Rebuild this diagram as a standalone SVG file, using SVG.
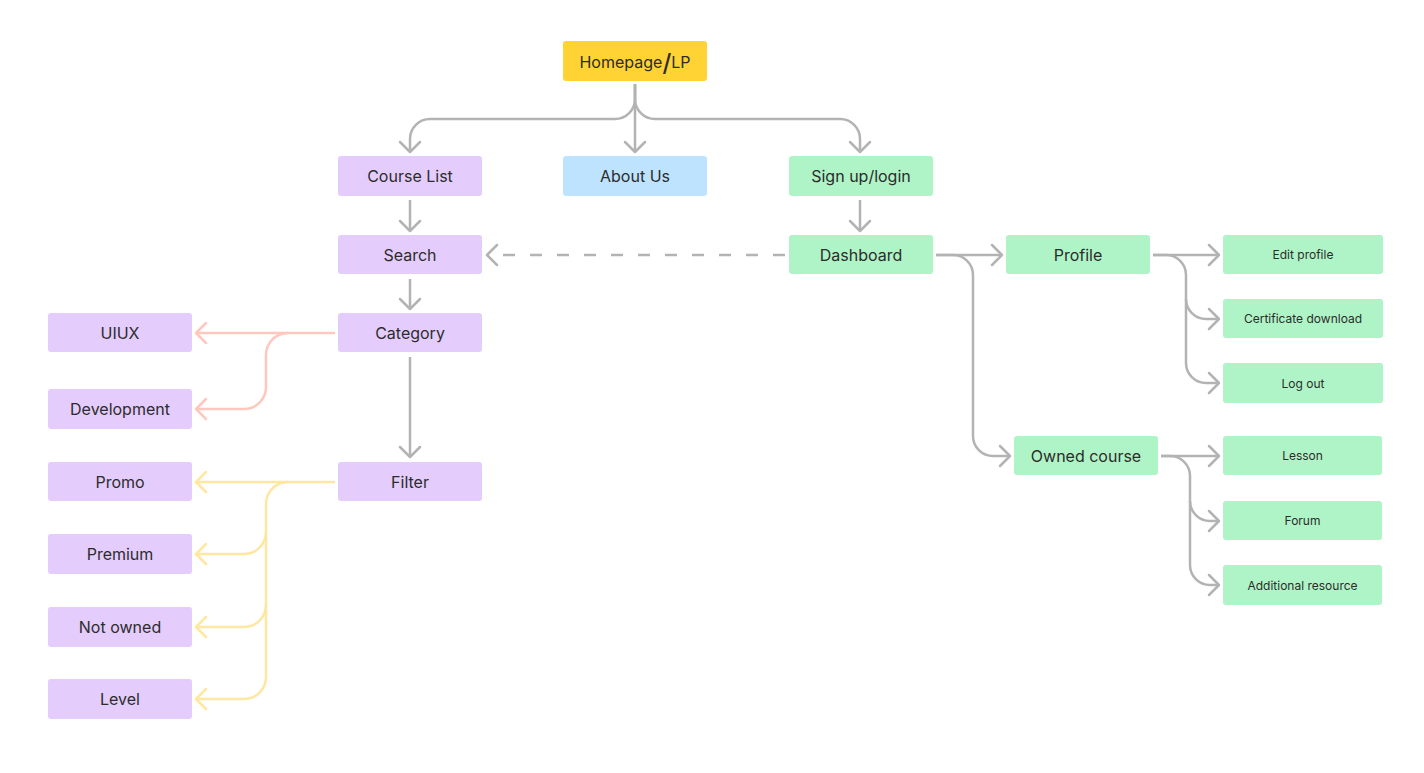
<svg xmlns="http://www.w3.org/2000/svg" width="1424" height="773" viewBox="0 0 1424 773">
<defs>
<style>
.n{stroke:none}
.y{fill:#FFD333}
.p{fill:#E4CCFC}
.b{fill:#BDE3FF}
.g{fill:#AFF4C6}
.t{font-family:Inter,"Noto Sans","Liberation Sans",sans-serif;font-size:16px;fill:#2C2C2C;text-anchor:middle;dominant-baseline:central}
.s{font-size:12px}
.c{fill:none;stroke-width:2.5;stroke-linejoin:round}
.gr{stroke:#B3B3B3}
.sa{stroke:#FFC7BD}
.ye{stroke:#FFE6A1}
</style>
<marker id="ag" markerUnits="userSpaceOnUse" viewBox="-12 -12 14 24" markerWidth="14" markerHeight="24" refX="0" refY="0" orient="auto"><path d="M-10,-10 L0,0 L-10,10" fill="none" stroke="#B3B3B3" stroke-width="2.5" stroke-linecap="round" stroke-linejoin="round"/></marker>
<marker id="as" markerUnits="userSpaceOnUse" viewBox="-12 -12 14 24" markerWidth="14" markerHeight="24" refX="0" refY="0" orient="auto"><path d="M-10,-10 L0,0 L-10,10" fill="none" stroke="#FFC7BD" stroke-width="2.5" stroke-linecap="round" stroke-linejoin="round"/></marker>
<marker id="ay" markerUnits="userSpaceOnUse" viewBox="-12 -12 14 24" markerWidth="14" markerHeight="24" refX="0" refY="0" orient="auto"><path d="M-10,-10 L0,0 L-10,10" fill="none" stroke="#FFE6A1" stroke-width="2.5" stroke-linecap="round" stroke-linejoin="round"/></marker>
</defs>
<rect width="1424" height="773" fill="#FFFFFF"/>
<g id="connectors">
<path class="c gr" d="M635,84 V152" marker-end="url(#ag)"/>
<path class="c gr" d="M635,84 V99 A20,20 0 0 1 615,119 H430 A20,20 0 0 0 410,139 V152" marker-end="url(#ag)"/>
<path class="c gr" d="M635,84 V99 A20,20 0 0 0 655,119 H840 A20,20 0 0 1 860,139 V152" marker-end="url(#ag)"/>
<path class="c gr" d="M410,200 V231" marker-end="url(#ag)"/>
<path class="c gr" d="M860,200 V231" marker-end="url(#ag)"/>
<path class="c gr" d="M410,279 V309" marker-end="url(#ag)"/>
<path class="c gr" d="M410,357 V457" marker-end="url(#ag)"/>
<path class="c gr" d="M785,255 H487" stroke-dasharray="12 15" marker-end="url(#ag)"/>
<path class="c gr" d="M936,255 H1002" marker-end="url(#ag)"/>
<path class="c gr" d="M936,255 H953 A20,20 0 0 1 973,275 V436 A20,20 0 0 0 993,456 H1010" marker-end="url(#ag)"/>
<path class="c gr" d="M1153,255 H1219" marker-end="url(#ag)"/>
<path class="c gr" d="M1153,255 H1166 A20,20 0 0 1 1186,275 V363 A20,20 0 0 0 1206,383 H1219" marker-end="url(#ag)"/>
<path class="c gr" d="M1186,299 A20,20 0 0 0 1206,319 H1219" marker-end="url(#ag)"/>
<path class="c gr" d="M1161,456 H1219" marker-end="url(#ag)"/>
<path class="c gr" d="M1161,456 H1170 A20,20 0 0 1 1190,476 V565 A20,20 0 0 0 1210,585 H1219" marker-end="url(#ag)"/>
<path class="c gr" d="M1190,501 A20,20 0 0 0 1210,521 H1219" marker-end="url(#ag)"/>
<path class="c sa" d="M335,333 H196" marker-end="url(#as)"/>
<path class="c sa" d="M288,333 A22,22 0 0 0 266,355 V387 A22,22 0 0 1 244,409 H196" marker-end="url(#as)"/>
<path class="c ye" d="M335,482 H196" marker-end="url(#ay)"/>
<path class="c ye" d="M288,482 A22,22 0 0 0 266,504 V677 A22,22 0 0 1 244,699 H196" marker-end="url(#ay)"/>
<path class="c ye" d="M266,532 A22,22 0 0 1 244,554 H196" marker-end="url(#ay)"/>
<path class="c ye" d="M266,605 A22,22 0 0 1 244,627 H196" marker-end="url(#ay)"/>
</g>
<g id="homepage"><rect class="n y" x="563" y="41" width="144" height="40" rx="3"/><text class="t" x="635" y="62">Homepage<tspan font-size="24" font-weight="500">/</tspan>LP</text></g>
<g id="course-list"><rect class="n p" x="338" y="156" width="144" height="40" rx="3"/><text class="t" x="410" y="176">Course List</text></g>
<g id="about-us"><rect class="n b" x="563" y="156" width="144" height="40" rx="3"/><text class="t" x="635" y="176">About Us</text></g>
<g id="signup"><rect class="n g" x="789" y="156" width="144" height="40" rx="3"/><text class="t" x="861" y="176">Sign up/login</text></g>
<g id="search"><rect class="n p" x="338" y="235" width="144" height="39" rx="3"/><text class="t" x="410" y="254.5">Search</text></g>
<g id="dashboard"><rect class="n g" x="789" y="235" width="144" height="39" rx="3"/><text class="t" x="861" y="254.5">Dashboard</text></g>
<g id="category"><rect class="n p" x="338" y="313" width="144" height="39" rx="3"/><text class="t" x="410" y="332.5">Category</text></g>
<g id="filter"><rect class="n p" x="338" y="462" width="144" height="39" rx="3"/><text class="t" x="410" y="481.5">Filter</text></g>
<g id="uiux"><rect class="n p" x="48" y="313" width="144" height="39" rx="3"/><text class="t" x="120" y="332.5">UIUX</text></g>
<g id="development"><rect class="n p" x="48" y="389" width="144" height="40" rx="3"/><text class="t" x="120" y="409">Development</text></g>
<g id="promo"><rect class="n p" x="48" y="462" width="144" height="39" rx="3"/><text class="t" x="120" y="481.5">Promo</text></g>
<g id="premium"><rect class="n p" x="48" y="534" width="144" height="40" rx="3"/><text class="t" x="120" y="554">Premium</text></g>
<g id="not-owned"><rect class="n p" x="48" y="607" width="144" height="40" rx="3"/><text class="t" x="120" y="627">Not owned</text></g>
<g id="level"><rect class="n p" x="48" y="679" width="144" height="40" rx="3"/><text class="t" x="120" y="699">Level</text></g>
<g id="profile"><rect class="n g" x="1006" y="235" width="144" height="39" rx="3"/><text class="t" x="1078" y="254.5">Profile</text></g>
<g id="owned-course"><rect class="n g" x="1014" y="436" width="144" height="39" rx="3"/><text class="t" x="1086" y="455.5">Owned course</text></g>
<g id="edit-profile"><rect class="n g" x="1223" y="235" width="160" height="39" rx="3"/><text class="t s" x="1303" y="254.5">Edit profile</text></g>
<g id="certificate"><rect class="n g" x="1223" y="299" width="160" height="39" rx="3"/><text class="t s" x="1303" y="318.5">Certificate download</text></g>
<g id="logout"><rect class="n g" x="1223" y="363" width="160" height="40" rx="3"/><text class="t s" x="1303" y="383">Log out</text></g>
<g id="lesson"><rect class="n g" x="1223" y="436" width="159" height="39" rx="3"/><text class="t s" x="1302.5" y="455.5">Lesson</text></g>
<g id="forum"><rect class="n g" x="1223" y="501" width="159" height="39" rx="3"/><text class="t s" x="1302.5" y="520.5">Forum</text></g>
<g id="additional"><rect class="n g" x="1223" y="565" width="159" height="40" rx="3"/><text class="t s" x="1302.5" y="585">Additional resource</text></g>
</svg>
